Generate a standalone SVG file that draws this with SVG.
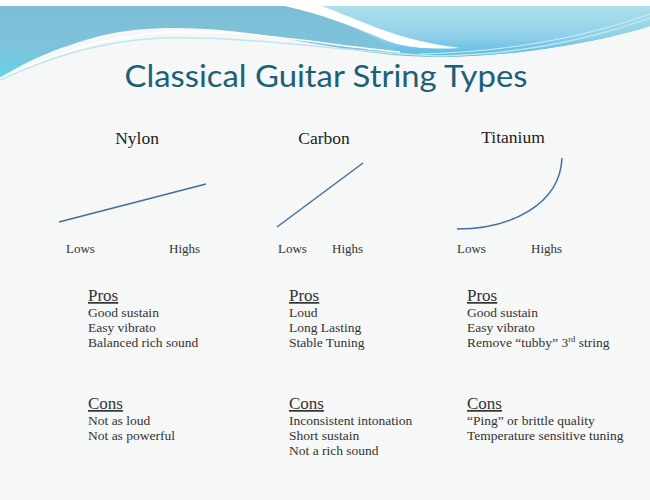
<svg xmlns="http://www.w3.org/2000/svg" width="650" height="500" viewBox="0 0 650 500">
  <defs>
    <linearGradient id="gLeft" x1="0" y1="0" x2="0" y2="1">
      <stop offset="0" stop-color="#80bdd6"/>
      <stop offset="0.6" stop-color="#7cc3dc"/>
      <stop offset="1" stop-color="#62d4e4"/>
    </linearGradient>
    <linearGradient id="gRight" x1="0" y1="0" x2="0" y2="1">
      <stop offset="0" stop-color="#ade0e8"/>
      <stop offset="0.6" stop-color="#8fd0ea"/>
      <stop offset="1" stop-color="#5cb8e0"/>
    </linearGradient>
    <style>
      .hdr { font-family: "Liberation Serif", "Times New Roman", serif; font-size: 17.5px; fill: #222; text-anchor: middle; }
      .axis { font-family: "Liberation Serif", "Times New Roman", serif; font-size: 13px; fill: #333; }
      .sec { font-family: "Liberation Serif", "Times New Roman", serif; font-size: 17px; fill: #333; text-decoration: underline; }
      .item { font-family: "Liberation Serif", "Times New Roman", serif; font-size: 13.5px; fill: #333; }
      .curve { fill: none; stroke: #3f6fa3; stroke-width: 1.5; }
    </style>
  </defs>

  <rect x="0" y="0" width="650" height="500" fill="#f6f7f7"/>

  <!-- header banner -->
  <g id="banner">
    <rect x="0" y="0" width="650" height="6" fill="#ffffff"/>
    <path d="M0,6 L650,6 L650,26 C600,42 520,56 440,57 C380,57 330,46 270,36 C210,27 150,24 100,36 C55,48 25,62 0,78 Z" fill="url(#gLeft)"/>
    <path d="M300,6 L650,6 L650,26 C600,42 520,56 440,57 C420,57 405,54 395,50 C370,35 340,18 300,6 Z" fill="url(#gRight)"/>
    <path d="M285,6 L322,6 C360,20 395,40 460,48 C420,50 400,46 385,40 C350,25 320,14 285,6 Z" fill="#ffffff"/>
    <path d="M0,80 C40,62 90,42 160,38 C260,36 340,52 440,56 C530,54 600,36 650,18" fill="none" stroke="#bfe6ee" stroke-width="1.5"/>
    <path d="M0,78 C45,58 100,36 170,32 C250,30 320,44 400,52" fill="none" stroke="#ffffff" stroke-width="1.5"/>
    <path d="M420,54 C520,52 600,32 650,14" fill="none" stroke="#cfeef4" stroke-width="1"/>
  </g>

  <g id="title">
    <text x="326" y="87" text-anchor="middle" font-family="Lato, 'Open Sans', sans-serif" font-size="30" fill="#1d6179" textLength="403" lengthAdjust="spacingAndGlyphs">Classical Guitar String Types</text>
  </g>

  <g id="nylon">
    <text class="hdr" x="137" y="144">Nylon</text>
    <text class="axis" x="66" y="253">Lows</text>
    <text class="axis" x="169" y="253">Highs</text>
    <text class="sec" x="88" y="301">Pros</text>
    <text class="item" x="88" y="317">Good sustain</text>
    <text class="item" x="88" y="332">Easy vibrato</text>
    <text class="item" x="88" y="347">Balanced rich sound</text>
    <text class="sec" x="88" y="409">Cons</text>
    <text class="item" x="88" y="424.5">Not as loud</text>
    <text class="item" x="88" y="439.5">Not as powerful</text>
  </g>

  <g id="carbon">
    <text class="hdr" x="324" y="144">Carbon</text>
    <text class="axis" x="278" y="253">Lows</text>
    <text class="axis" x="332" y="253">Highs</text>
    <text class="sec" x="289" y="301">Pros</text>
    <text class="item" x="289" y="317">Loud</text>
    <text class="item" x="289" y="332">Long Lasting</text>
    <text class="item" x="289" y="347">Stable Tuning</text>
    <text class="sec" x="289" y="409">Cons</text>
    <text class="item" x="289" y="424.5">Inconsistent intonation</text>
    <text class="item" x="289" y="439.5">Short sustain</text>
    <text class="item" x="289" y="454.5">Not a rich sound</text>
  </g>

  <g id="titanium">
    <text class="hdr" x="513" y="143">Titanium</text>
    <text class="axis" x="457" y="253">Lows</text>
    <text class="axis" x="531" y="253">Highs</text>
    <text class="sec" x="467" y="301">Pros</text>
    <text class="item" x="467" y="317">Good sustain</text>
    <text class="item" x="467" y="332">Easy vibrato</text>
    <text class="item" x="467" y="347">Remove “tubby” 3<tspan font-size="8.5" dy="-5">rd</tspan><tspan dy="5"> string</tspan></text>
    <text class="sec" x="467" y="409">Cons</text>
    <text class="item" x="467" y="424.5">“Ping” or brittle quality</text>
    <text class="item" x="467" y="439.5">Temperature sensitive tuning</text>
  </g>

  <g id="connectors">
    <line class="curve" x1="59" y1="222" x2="206" y2="184"/>
    <line class="curve" x1="277" y1="227" x2="363" y2="163"/>
    <path class="curve" d="M457,229 C510,229 560,205 562,158"/>
  </g>
</svg>
